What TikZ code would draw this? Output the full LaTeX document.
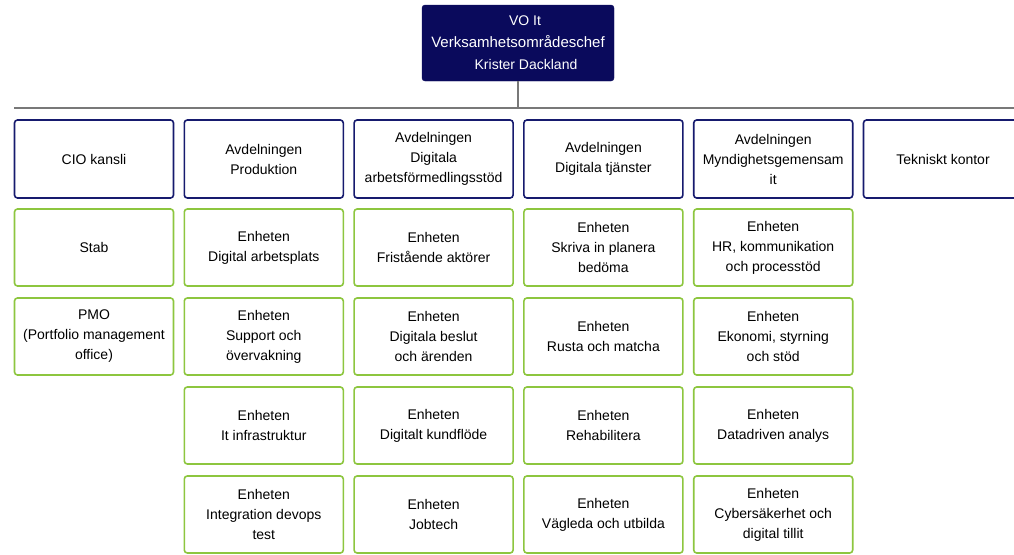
\documentclass[tikz,border=0pt]{standalone}
\usepackage{fontspec}
\setmainfont{Liberation Sans}
\usepackage{xcolor}
\usepackage{tikz}
\definecolor{chefblue}{RGB}{10, 10, 92}
\definecolor{avdblue}{RGB}{22, 26, 110}
\definecolor{enhgreen}{RGB}{141, 198, 63}
\definecolor{bargray}{RGB}{120, 120, 120}

\tikzset{
    avdbox/.style={draw=avdblue, line width=1.6pt, fill=white, rounded corners=3pt, minimum width=159pt, minimum height=78pt, align=center, font=\fontsize{14}{20}\selectfont, inner sep=2pt},
    enhbox/.style={draw=enhgreen, line width=1.6pt, fill=white, rounded corners=3pt, minimum width=159pt, minimum height=77pt, align=center, font=\fontsize{14}{20}\selectfont, inner sep=2pt},
    barline/.style={draw=bargray, line width=1.2pt}
}

\begin{document}
\begin{tikzpicture}[x=1pt, y=-1pt]
    \useasboundingbox (0,0) rectangle (1014,554);

    % Verksamhetsomradeschef
    \node[fill=chefblue, draw=chefblue, rounded corners=3pt, minimum width=192pt, minimum height=76pt, align=center, text=white, font=\fontsize{14}{22}\selectfont] (chef) at (518,43) {
        \hspace*{14pt}VO It \\
        {\fontsize{15}{22}\selectfont Verksamhetsområdeschef} \\
        \hspace*{16pt}Krister Dackland
    };

    % Bar
    \coordinate (barL) at (14,108);
    \coordinate (barR) at (1030,108);
    \draw[barline] (barL) -- (barR);
    \draw[barline] (chef.south) -- (chef.south |- barL);

    % Avdelningar
    \node[avdbox] (cio) at (94,159) {CIO kansli};
    \node[avdbox] (prod) at (263.8,159) {Avdelningen\\Produktion};
    \node[avdbox] (dast) at (433.6,159) {Avdelningen\\Digitala\\arbetsförmedlingsstöd};
    \node[avdbox] (dtj) at (603.4,159) {Avdelningen\\Digitala tjänster};
    \node[avdbox] (mgit) at (773.2,159) {Avdelningen\\Myndighetsgemensam\\it};
    \node[avdbox] (tek) at (943,159) {Tekniskt kontor};

    % CIO kansli
    \node[enhbox] (stab) at (94,247.5) {Stab};
    \node[enhbox] (pmo) at (94,336.5) {PMO\\(Portfolio management\\office)};

    % Produktion
    \node[enhbox] (arbpl) at (263.8,247.5) {Enheten\\Digital arbetsplats};
    \node[enhbox] (supp) at (263.8,336.5) {Enheten\\Support och\\övervakning};
    \node[enhbox] (infra) at (263.8,425.5) {Enheten\\It infrastruktur};
    \node[enhbox] (devops) at (263.8,514.5) {Enheten\\Integration devops\\test};

    % Digitala arbetsformedlingsstod
    \node[enhbox] (frist) at (433.6,247.5) {Enheten\\Fristående aktörer};
    \node[enhbox] (beslut) at (433.6,336.5) {Enheten\\Digitala beslut\\och ärenden};
    \node[enhbox] (kund) at (433.6,425.5) {Enheten\\Digitalt kundflöde};
    \node[enhbox] (jobt) at (433.6,514.5) {Enheten\\Jobtech};

    % Digitala tjanster
    \node[enhbox] (skriva) at (603.4,247.5) {Enheten\\Skriva in planera\\bedöma};
    \node[enhbox] (rusta) at (603.4,336.5) {Enheten\\Rusta och matcha};
    \node[enhbox] (rehab) at (603.4,425.5) {Enheten\\Rehabilitera};
    \node[enhbox] (vagl) at (603.4,514.5) {Enheten\\Vägleda och utbilda};

    % Myndighetsgemensam it
    \node[enhbox] (hr) at (773.2,247.5) {Enheten\\HR, kommunikation\\och processtöd};
    \node[enhbox] (ekon) at (773.2,336.5) {Enheten\\Ekonomi, styrning\\och stöd};
    \node[enhbox] (data) at (773.2,425.5) {Enheten\\Datadriven analys};
    \node[enhbox] (cyber) at (773.2,514.5) {Enheten\\Cybersäkerhet och\\digital tillit};
\end{tikzpicture}
\end{document}
